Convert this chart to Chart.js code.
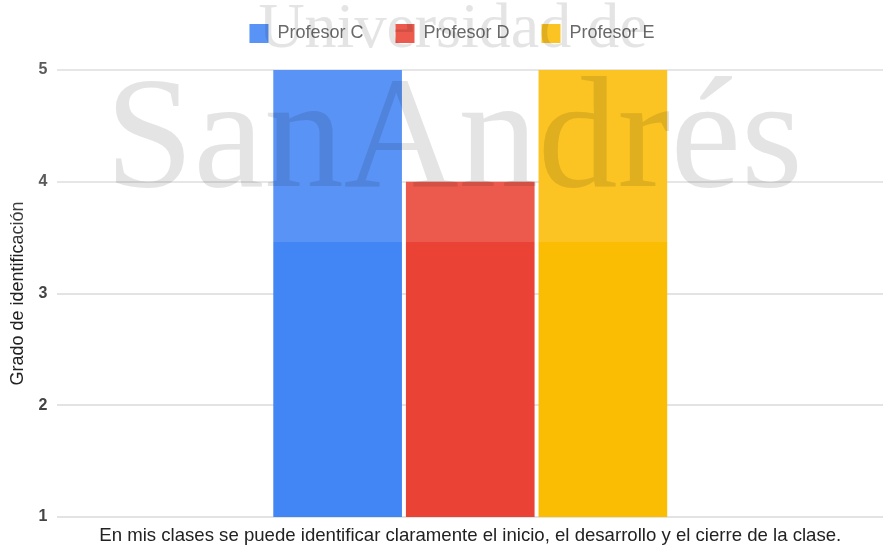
<!DOCTYPE html>
<html>
<head>
<meta charset="utf-8">
<script src="https://cdn.jsdelivr.net/npm/chart.js@4/dist/chart.umd.min.js"></script>
<style>
  body { margin: 0; background: #fff; }
  #wrap { width: 883px; height: 545px; }
</style>
</head>
<body>
<div id="wrap"><canvas id="chart"></canvas></div>
<script>
const categories = ['En mis clases se puede identificar claramente el inicio, el desarrollo y el cierre de la clase.'];
const profesorC = [5];
const profesorD = [4];
const profesorE = [5];
const yTicks = [1, 2, 3, 4, 5];

// university watermark drawn over the finished chart
const watermark = {
    id: 'watermark',
    afterDraw(chart) {
        const ctx = chart.ctx;
        ctx.save();
        ctx.fillStyle = 'rgba(255,255,255,0.12)';
        ctx.fillRect(0, 0, chart.width, 242);
        ctx.globalCompositeOperation = 'multiply';
        ctx.fillStyle = '#e4e4e4';
        ctx.textAlign = 'center';
        ctx.textBaseline = 'alphabetic';
        ctx.font = '64px "Liberation Serif"';
        ctx.fillText('Universidad de', 453, 47);
        ctx.font = '159px "Liberation Serif"';
        ctx.fillText('SanAndrés', 454, 186);
        ctx.restore();
    }
};

// extra room under the legend
const legendGap = {
    id: 'legendGap',
    beforeInit(chart) {
        const fit = chart.legend.fit;
        chart.legend.fit = function () {
            fit.bind(chart.legend)();
            this.height += 17;
        };
    }
};

new Chart(document.getElementById('chart').getContext('2d'), {
    type: 'bar',
    data: {
        labels: categories,
        datasets: [
            { label: 'Profesor C', data: profesorC, backgroundColor: '#4285F4' },
            { label: 'Profesor D', data: profesorD, backgroundColor: '#EA4335' },
            { label: 'Profesor E', data: profesorE, backgroundColor: '#FBBC04' }
        ]
    },
    options: {
        responsive: true,
        maintainAspectRatio: false,
        animation: false,
        layout: { padding: { left: 7, right: -14, top: -8, bottom: 0 } },
        datasets: {
            bar: { categoryPercentage: 0.482, barPercentage: 0.97 }
        },
        plugins: {
            legend: {
                position: 'top',
                labels: {
                    boxWidth: 19,
                    boxHeight: 19,
                    padding: 32,
                    color: '#555',
                    font: { family: 'Liberation Sans', size: 18 }
                }
            },
            tooltip: { enabled: false }
        },
        scales: {
            x: {
                grid: { display: false },
                border: { display: false },
                ticks: { color: '#222', font: { family: 'Liberation Sans', size: 18.6 }, padding: 0 },
                afterFit(axis) { axis.height = 28; }
            },
            y: {
                min: 1,
                max: 5,
                afterBuildTicks(axis) {
                    axis.ticks = yTicks.map(v => ({ value: v }));
                },
                grid: { color: '#e3e3e3', lineWidth: 2, drawTicks: false },
                border: { display: false },
                ticks: { color: '#444', font: { family: 'Liberation Sans', size: 16, weight: 'bold' }, padding: 10 },
                title: {
                    display: true,
                    text: 'Grado de identificación',
                    color: '#222',
                    font: { family: 'Liberation Sans', size: 18 },
                    padding: { top: 0, bottom: 0 }
                }
            }
        }
    },
    plugins: [watermark, legendGap]
});
</script>
</body>
</html>
